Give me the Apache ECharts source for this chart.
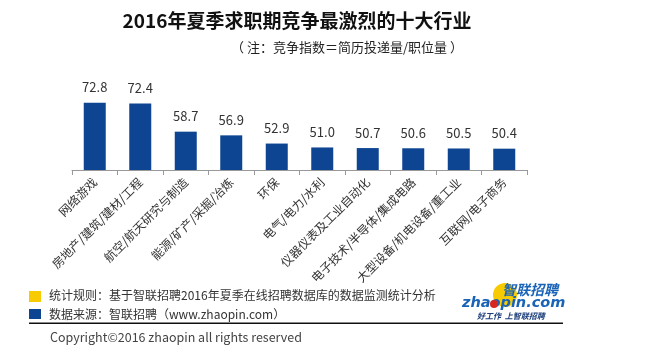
<!DOCTYPE html>
<html><head><meta charset="utf-8">
<script src="https://cdn.jsdelivr.net/npm/echarts@6/dist/echarts.min.js"></script>
<style>html,body{margin:0;padding:0;background:#fff}#c{width:657px;height:357px}</style>
</head><body><div id="c"></div>
<script>
const categories = ['网络游戏','房地产/建筑/建材/工程','航空/航天研究与制造','能源/矿产/采掘/冶炼','环保','电气/电力/水利','仪器仪表及工业自动化','电子技术/半导体/集成电路','大型设备/机电设备/重工业','互联网/电子商务'];
const values = [72.8, 72.4, 58.7, 56.9, 52.9, 51.0, 50.7, 50.6, 50.5, 50.4];
const titleText = '2016年夏季求职期竞争最激烈的十大行业';
const subtitleText = '（ 注：竞争指数＝简历投递量/职位量 ）';
const noteRule = '统计规则：基于智联招聘2016年夏季在线招聘数据库的数据监测统计分析';
const noteSource = '数据来源：智联招聘（www.zhaopin.com）';
const copyright = 'Copyright©2016 zhaopin all rights reserved';

const FONT = '"Noto Sans CJK SC", "Noto Sans", sans-serif';
const chart = echarts.init(document.getElementById('c'), null, {renderer: 'canvas'});
chart.setOption({
  backgroundColor: '#fff',
  animation: false,
  title: [
    {text: titleText, left: 292, top: 6, textAlign: 'center',
     textStyle: {fontFamily: FONT, fontSize: 19, fontWeight: 'bold', color: '#111'}},
  ],
  grid: {left: 72, width: 455, top: 47, height: 123},
  xAxis: {
    type: 'category', data: categories,
    axisLine: {lineStyle: {color: '#999', width: 1}},
    axisTick: {show: true, length: 5, lineStyle: {color: '#999'}},
    axisLabel: {rotate: 45, interval: 0, margin: 10, fontFamily: FONT, fontSize: 12, color: '#333'}
  },
  yAxis: {type: 'value', min: 40, max: 100, show: false, splitLine: {show: false}},
  series: [{
    type: 'bar', data: values, barWidth: 22,
    itemStyle: {color: '#0D4592'},
    label: {show: true, position: 'top', distance: 9, formatter: p => p.value.toFixed(1),
      fontFamily: FONT, fontSize: 13, color: '#333'}
  }],
  graphic: [
    {type: 'text', right: 657 - 463, top: 41, style: {text: subtitleText, font: '13px ' + FONT, fill: '#222'}},
    {type: 'rect', shape: {x: 29, y: 291, width: 12, height: 11}, style: {fill: '#F7CB00'}},
    {type: 'rect', shape: {x: 29, y: 309, width: 12, height: 10}, style: {fill: '#0D4592'}},
    {type: 'text', x: 49, y: 295, style: {text: noteRule, font: '12px ' + FONT, fill: '#333', textVerticalAlign: 'middle'}},
    {type: 'text', x: 49, y: 314, style: {text: noteSource, font: '12px ' + FONT, fill: '#333', textVerticalAlign: 'middle'}},
    {type: 'rect', shape: {x: 29, y: 322.5, width: 534, height: 1.5}, style: {fill: '#111'}, z: 100},
    {type: 'text', x: 50, y: 337, style: {text: copyright, font: '12.5px ' + FONT, fill: '#444', textVerticalAlign: 'middle'}},
    {type: 'circle', shape: {cx: 505, cy: 295, r: 12}, style: {fill: '#F7CB00'}},
    {type: 'text', x: 502, y: 290, style: {text: '智联招聘', font: 'italic bold 14px ' + FONT, fill: '#1a64b8', textVerticalAlign: 'middle'}},
    {type: 'text', x: 462, y: 303, style: {text: 'zhaopin.com', font: 'italic bold 14.5px "DejaVu Sans", sans-serif', fill: '#1a64b8', textVerticalAlign: 'middle'}},
    {type: 'circle', shape: {cx: 494, cy: 304, r: 4}, style: {fill: '#d62a20'}},
    {type: 'text', x: 477, y: 316, style: {text: '好工作  上智联招聘', font: 'italic bold 8px ' + FONT, fill: '#1a3d7a', textVerticalAlign: 'middle'}}
  ]
});
</script></body></html>
